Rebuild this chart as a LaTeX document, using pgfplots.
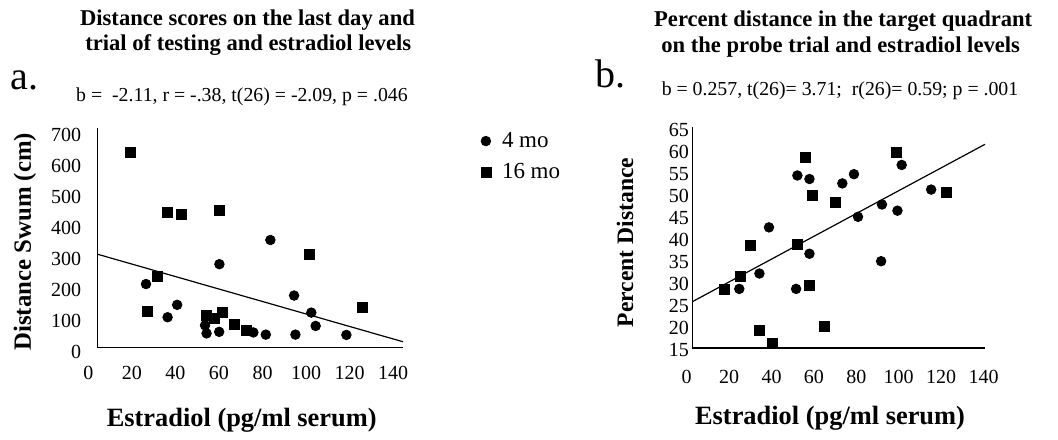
\documentclass[border=0pt]{standalone}
\usepackage{fontspec}
\setmainfont{Liberation Serif}
\usepackage{pgfplots}
\usepackage{pgfplotstable}
\pgfplotsset{compat=1.18}

% panel a: distance swum (cm) vs estradiol
\pgfplotstableread{
x y
26.5 220
36.4 113
40.8 153
53.6 87
54.3 61
60.1 66
60.2 284
75.8 64
81.5 57
83.6 362
94.5 183
95.1 57
102.4 128
104.4 85
118.5 56
}\distYoung
\pgfplotstableread{
x y
19.4 645
27.1 133
31.7 246
36.2 450
42.8 444
54.3 119
58.1 109
60.4 456
61.6 130
67.3 91
72.6 72
101.7 314
125.7 144
}\distOld

% panel b: percent distance in target quadrant vs estradiol
\pgfplotstableread{
x y
24.8 28.9
34.3 32.4
38.8 42.9
51.6 28.9
52.2 54.7
57.9 53.9
57.9 36.9
73.4 52.9
78.9 55.0
80.8 45.3
91.7 35.2
92.1 48.1
99.4 46.7
101.4 57.1
115.3 51.5
}\pctYoung
\pgfplotstableread{
x y
17.6 28.9
25.2 31.7
29.9 38.7
34.3 19.5
40.6 16.4
52.2 39.0
56.0 58.9
57.9 29.6
59.1 50.2
64.9 20.3
70.0 48.5
98.7 59.9
122.6 50.9
}\pctOld

\pgfplotsset{
  panel/.style={
    scale only axis, anchor=south west,
    axis line style={draw=none}, major tick length=0pt,
    xtick pos=bottom, ytick pos=left, clip=false,
    /pgf/number format/assume math mode=true,
    ticklabel style={font=\fontsize{10}{12}\selectfont},
  },
  markleg/.style={legend image code/.code={%
    \path[draw=none, fill=none] (0pt,0pt) rectangle (8.9pt,0.1pt);
    \draw[##1] plot coordinates {(2.85pt,0pt)};}},
  dot/.style={only marks, mark=*, mark size=2.4pt, black, markleg},
  sq/.style={only marks, mark=square*, mark size=2.5pt, black, markleg},
}

\begin{document}
\begin{tikzpicture}
\path (0,0) rectangle (529pt,217.5pt);

\begin{axis}[panel,
  at={(44.15pt,41.35pt)}, width=157.35pt, height=112pt,
  xmin=0, xmax=144.5, ymin=0, ymax=722,
  xtick={0,20,...,140}, ytick={0,100,...,700},
  xticklabel style={yshift=-3.5pt},
  legend style={draw=none, fill=none, at={(1.225,1.021)}, anchor=north west,
    font=\fontsize{11.5}{13}\selectfont, row sep=2.5pt},
  legend cell align=left,
]
\draw[line width=0.8pt] (axis cs:4.3,722) |- (axis cs:144.5,16);
\addplot[dot] table {\distYoung};
\addlegendentry{4 mo}
\addplot[sq] table {\distOld};
\addlegendentry{16 mo}
\addplot[line width=0.6pt, forget plot] coordinates {(4.3,316) (144.5,34)};
\end{axis}

\begin{axis}[panel,
  at={(343.35pt,42.5pt)}, width=149.15pt, height=111.65pt,
  xmin=0, xmax=140.7, ymin=15, ymax=65.8,
  xtick={0,20,...,140}, ytick={15,20,...,65},
  xticklabel style={yshift=-6.5pt},
  yticklabel style={xshift=4.6pt},
]
\draw[line width=0.8pt] (axis cs:2.7,65.8) |- (axis cs:140.7,15.45);
\addplot[dot] table {\pctYoung};
\addplot[sq] table {\pctOld};
\addplot[line width=0.6pt] coordinates {(2.7,26.0) (140.7,61.8)};
\end{axis}

% titles and statistics
\node[anchor=base, font=\bfseries\fontsize{11.3}{13}\selectfont] at (123.75pt,205pt) {Distance scores on the last day and};
\node[anchor=base, font=\bfseries\fontsize{11.3}{13}\selectfont] at (124.1pt,192.5pt) {trial of testing and estradiol levels};
\node[anchor=base, font=\bfseries\fontsize{11.3}{13}\selectfont] at (421.6pt,204.25pt) {Percent distance in the target quadrant};
\node[anchor=base, font=\bfseries\fontsize{11.3}{13}\selectfont] at (420.3pt,191.25pt) {on the probe trial and estradiol levels};
\node[anchor=base, font=\fontsize{9.9}{12}\selectfont] at (121pt,166.65pt) {b = \ -2.11, r = -.38, t(26) = -2.09, p = .046};
\node[anchor=base, font=\fontsize{9.9}{12}\selectfont] at (420pt,170pt) {b = 0.257, t(26)= 3.71; \ r(26)= 0.59; p = .001};
\node[anchor=base west, font=\fontsize{20}{24}\selectfont, inner sep=0pt] at (5pt,172.85pt) {a.};
\node[anchor=base west, font=\fontsize{20}{24}\selectfont, inner sep=0pt] at (297.5pt,173.85pt) {b.};

% axis titles
\node[rotate=90, font=\bfseries\fontsize{12.4}{14}\selectfont] at (12.5pt,96.65pt) {Distance Swum (cm)};
\node[rotate=90, font=\bfseries\fontsize{11.8}{14}\selectfont] at (312.5pt,96.25pt) {Percent Distance};
\node[anchor=base, font=\bfseries\fontsize{13.2}{15}\selectfont] at (120.85pt,4.15pt) {Estradiol (pg/ml serum)};
\node[anchor=base, font=\bfseries\fontsize{13.2}{15}\selectfont] at (415pt,5.35pt) {Estradiol (pg/ml serum)};
\end{tikzpicture}
\end{document}
